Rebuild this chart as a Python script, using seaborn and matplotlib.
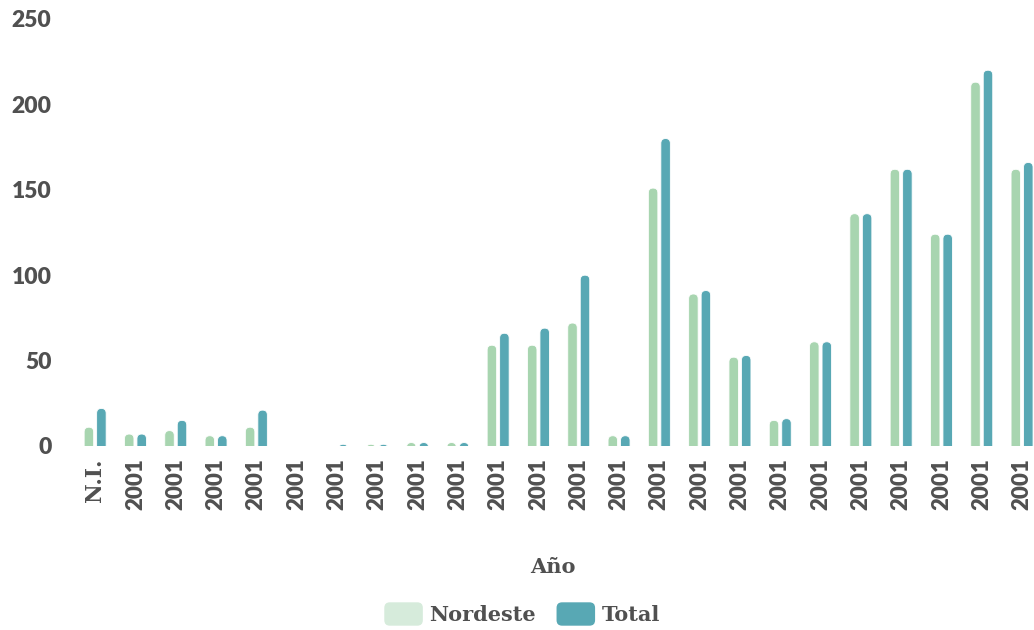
import pandas as pd
import numpy as np
import matplotlib.pyplot as plt
import seaborn as sns
from matplotlib.patches import FancyBboxPatch, Patch
from matplotlib.legend_handler import HandlerPatch

# values
labels = ["N.I."] + ["2001"] * 23
nordeste = [11, 7, 9, 6, 11, 0, 0, 1, 2, 2, 59, 59, 72, 6, 151, 89, 52, 15, 61, 136, 162, 124, 213, 162]
total = [22, 7, 15, 6, 21, 0, 1, 1, 2, 2, 66, 69, 100, 6, 180, 91, 53, 16, 61, 136, 162, 124, 220, 166]
series = ["Nordeste", "Total"]
bar_colors = ["#A8D5B0", "#58A8B4"]
legend_colors = ["#D6EBDB", "#58A8B4"]

df = pd.DataFrame({
    "pos": list(range(len(labels))) * 2,
    "value": nordeste + total,
    "serie": ["Nordeste"] * len(nordeste) + ["Total"] * len(total),
})

sns.set_style("white")
text_color = "#505050"

fig = plt.figure(figsize=(10.34, 6.30), dpi=100)
ax = fig.add_axes([75 / 1034, 184 / 630, 959 / 1034, 427 / 630])

sns.barplot(data=df, x="pos", y="value", hue="serie", hue_order=series,
            palette=bar_colors, width=0.62, gap=0.24, legend=False, ax=ax,
            errorbar=None, saturation=1)

ax.set_xlim(-0.5, -0.5 + 959 / 40.3)
ax.set_ylim(0, 250)

# round the top corners of the bars
px_x = 40.3
px_y = 427 / 250
r_px = 4.7
for bar in list(ax.patches):
    x, w, h = bar.get_x(), bar.get_width(), bar.get_height()
    fc = bar.get_facecolor()
    bar.remove()
    ax.add_patch(FancyBboxPatch((x, -10), w, h + 10,
                                boxstyle=f"round,pad=0,rounding_size={r_px / px_x}",
                                mutation_aspect=px_x / px_y, fc=fc, ec="white", lw=0.6))

sns.despine(ax=ax, left=True, bottom=True)
ax.set_yticks([0, 50, 100, 150, 200, 250])
ax.set_yticklabels(["0", "50", "100", "150", "200", "250"])
ax.set_xticks(range(len(labels)))
ax.set_xticklabels(labels, rotation=90)
ax.tick_params(axis="y", length=0, pad=17, labelsize=16.5, labelcolor=text_color)
ax.tick_params(axis="x", length=0, pad=9, labelsize=16, labelcolor=text_color)
for t in ax.get_yticklabels():
    t.set_fontfamily("Lato")
    t.set_fontweight("heavy")
for t in ax.get_xticklabels():
    if t.get_text() == "N.I.":
        t.set_fontfamily("DejaVu Serif")
        t.set_fontsize(15.5)
        t.set_fontweight("bold")
    else:
        t.set_fontfamily("Lato")
        t.set_fontweight("heavy")
ax.set_xlabel("")
ax.set_ylabel("")
ax.grid(False)

fig.text(553 / 1034, 1 - 567 / 630, "Año", ha="center", va="center",
         fontsize=15, fontweight="bold", family="DejaVu Serif", color=text_color)


class RoundHandler(HandlerPatch):
    def create_artists(self, legend, orig_handle, xdescent, ydescent,
                       width, height, fontsize, trans):
        p = FancyBboxPatch((-xdescent, -ydescent), width, height,
                           boxstyle="round,pad=0,rounding_size=4",
                           fc=orig_handle.get_facecolor(), ec="none", transform=trans)
        return [p]


handles = [Patch(facecolor=c, edgecolor="none") for c in legend_colors]
leg = fig.legend(handles, series, loc="center", bbox_to_anchor=(522 / 1034, 1 - 614 / 630),
                 ncol=2, frameon=False, handlelength=1.85, handleheight=1.35,
                 handletextpad=0.3, columnspacing=1.0,
                 handler_map={Patch: RoundHandler()},
                 prop={"family": "DejaVu Serif", "weight": "bold", "size": 15})
for t in leg.get_texts():
    t.set_color(text_color)

fig.savefig("out.png", dpi=100)
